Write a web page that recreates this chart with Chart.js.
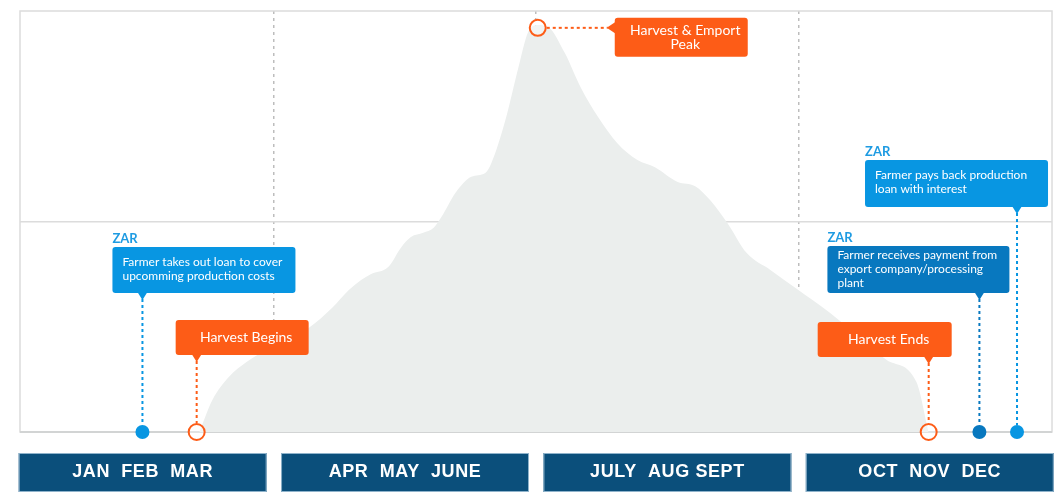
<!DOCTYPE html>
<html>
<head>
<meta charset="utf-8">
<script src="https://cdn.jsdelivr.net/npm/chart.js@4/dist/chart.umd.min.js"></script>
<style>
  html, body { margin: 0; padding: 0; background: #fff; }
  #wrap { width: 1062px; height: 496px; }
</style>
</head>
<body>
<div id="wrap"><canvas id="cycle"></canvas></div>
<script>
// harvest volume profile (x = month of year, y = relative volume)
const areaMonths = [2.15, 2.30, 2.49, 2.69, 2.91, 3.18, 3.40, 3.67, 3.86, 4.00, 4.11, 4.31, 4.46, 4.57,
  4.71, 4.83, 4.92, 5.08, 5.26, 5.42, 5.49, 5.65, 5.80, 5.91, 6.02, 6.14, 6.33, 6.51, 6.71, 6.93,
  7.16, 7.36, 7.62, 7.82, 7.99, 8.19, 8.41, 8.68, 8.98, 9.36, 9.67, 10.01, 10.35, 10.49];
const areaVolume = [0, 7.6, 13.1, 16.6, 19.5, 22.3, 24.7, 29.5, 33.7, 36.1, 37.5, 39.2, 43.9, 46.3,
  47.3, 48.5, 51.1, 56.8, 60.6, 61.5, 63.9, 74.1, 86.7, 95.0, 96.7, 96.2, 90.0, 81.9, 74.8, 68.6,
  64.6, 62.9, 59.4, 58.4, 55.1, 49.6, 42.5, 38.5, 34.0, 28.3, 23.0, 17.1, 11.9, 0];

// harvest milestones (hollow orange rings)
const harvestLabels = [["Harvest Begins"], ["Harvest & Emport", "Peak"], ["Harvest Ends"]];
const harvestMonths = [2.12, 6.02, 10.49];
const harvestValues = [0, 96, 0];

// money flows (filled blue dots)
const moneyLabels = [
  ["Farmer takes out loan to cover", "upcomming production costs"],
  ["Farmer receives payment from", "export company/processing", "plant"],
  ["Farmer pays back production", "loan with interest"]
];
const moneyMonths = [1.5, 11.07, 11.5];
const moneyValues = [0, 0, 0];
const currency = "ZAR";

const quarterLabels = ["JAN  FEB  MAR", "APR  MAY  JUNE", "JULY  AUG SEPT", "OCT  NOV  DEC"];

const ORANGE = "#fd5c17";
const BLUE = "#0896e2";
const DARK_BLUE = "#0878bf";
const NAVY = "#0b4f7b";
const FONT = "Lato, 'Open Sans', sans-serif";

// box layout relative to the anchor point, in pixels
const callouts = [
  { src: "money", i: 0, dx: -30, dy: -185, w: 183, h: 46, color: BLUE, align: "left", tag: true },
  { src: "harvest", i: 0, dx: -21, dy: -112, w: 133, h: 35, color: ORANGE, align: "center" },
  { src: "harvest", i: 1, dx: 77, dy: -10, w: 133, h: 39, color: ORANGE, align: "center", side: "left" },
  { src: "harvest", i: 2, dx: -111, dy: -110, w: 134, h: 35, color: ORANGE, align: "center" },
  { src: "money", i: 1, dx: -152, dy: -186, w: 182, h: 47, color: DARK_BLUE, align: "left", tag: true },
  { src: "money", i: 2, dx: -152, dy: -272, w: 183, h: 47, color: BLUE, align: "left", tag: true }
];

const framePlugin = {
  id: "frame",
  beforeDatasetsDraw(chart) {
    const { ctx, chartArea: a } = chart;
    ctx.save();
    ctx.strokeStyle = "#dcdcdc";
    ctx.lineWidth = 1.5;
    ctx.strokeRect(a.left, a.top, a.right - a.left, a.bottom - a.top);
    ctx.strokeStyle = "#d2d4d4";
    ctx.lineWidth = 2;
    ctx.beginPath();
    ctx.moveTo(a.left, a.bottom);
    ctx.lineTo(a.right, a.bottom);
    ctx.stroke();
    ctx.restore();
  },
  afterDraw(chart) {
    const { ctx, scales: { x } } = chart;
    ctx.save();
    quarterLabels.forEach((label, q) => {
      const l = x.getPixelForValue(q * 3 + 0.085);
      const r = x.getPixelForValue(q * 3 + 2.92);
      ctx.fillStyle = NAVY;
      ctx.fillRect(l, 453, r - l, 39);
      ctx.strokeStyle = "#8fb3cb";
      ctx.lineWidth = 1;
      ctx.strokeRect(l + 0.5, 453.5, r - l - 1, 38);
      ctx.fillStyle = "#fff";
      ctx.font = "bold 18px 'Liberation Sans', Arial, sans-serif";
      ctx.letterSpacing = "0.6px";
      ctx.textAlign = "center";
      ctx.textBaseline = "middle";
      ctx.fillText(label, (l + r) / 2, 472);
    });
    ctx.restore();
  }
};

const calloutPlugin = {
  id: "callouts",
  afterDatasetsDraw(chart) {
    const { ctx, scales: { x, y } } = chart;
    callouts.forEach((c) => {
      const months = c.src === "money" ? moneyMonths : harvestMonths;
      const values = c.src === "money" ? moneyValues : harvestValues;
      const lines = c.src === "money" ? moneyLabels[c.i] : harvestLabels[c.i];
      const ax = x.getPixelForValue(months[c.i]);
      const ay = y.getPixelForValue(values[c.i]);
      const bx = ax + c.dx, by = ay + c.dy;
      const gap = c.src === "money" ? 7 : 9;
      ctx.save();

      // dotted connector
      ctx.strokeStyle = c.color;
      ctx.lineWidth = 2;
      ctx.setLineDash([3, 3]);
      ctx.beginPath();
      if (c.side === "left") {
        ctx.moveTo(ax + gap, ay);
        ctx.lineTo(bx - 7, ay);
      } else {
        ctx.moveTo(ax, by + c.h + 6);
        ctx.lineTo(ax, ay - gap);
      }
      ctx.stroke();
      ctx.setLineDash([]);

      // box and pointer
      ctx.fillStyle = c.color;
      ctx.beginPath();
      ctx.roundRect(bx, by, c.w, c.h, 3);
      ctx.fill();
      ctx.beginPath();
      if (c.side === "left") {
        ctx.moveTo(bx + 1, ay - 6);
        ctx.lineTo(bx - 8, ay);
        ctx.lineTo(bx + 1, ay + 6);
      } else {
        ctx.moveTo(ax - 5, by + c.h - 1);
        ctx.lineTo(ax, by + c.h + 7);
        ctx.lineTo(ax + 5, by + c.h - 1);
      }
      ctx.fill();

      // text
      ctx.fillStyle = "#fff";
      ctx.textBaseline = "middle";
      if (c.align === "left") {
        ctx.font = "12px " + FONT;
        ctx.textAlign = "left";
        const lh = 14;
        const top = by + c.h / 2 - (lines.length - 1) * lh / 2 - (lines.length === 3 ? 0 : 1);
        lines.forEach((t, k) => ctx.fillText(t, bx + 10, top + k * lh));
      } else {
        ctx.font = "14px " + FONT;
        ctx.textAlign = "center";
        const lh = 14;
        const top = by + c.h / 2 - (lines.length - 1) * lh / 2;
        lines.forEach((t, k) => ctx.fillText(t, bx + c.w / 2 + 4, top + k * lh));
      }

      if (c.tag) {
        ctx.fillStyle = "#1e9be2";
        ctx.font = "bold 13px " + FONT;
        ctx.textAlign = "left";
        ctx.textBaseline = "alphabetic";
        ctx.fillText(currency, bx, by - 4);
      }
      ctx.restore();
    });
  }
};

new Chart(document.getElementById("cycle"), {
  type: "scatter",
  data: {
    datasets: [
      {
        label: "money",
        data: moneyMonths.map((m, i) => ({ x: m, y: moneyValues[i] })),
        backgroundColor: [BLUE, DARK_BLUE, BLUE],
        borderWidth: 0,
        pointRadius: 7,
        clip: false,
        order: 1
      },
      {
        label: "harvest",
        data: harvestMonths.map((m, i) => ({ x: m, y: harvestValues[i] })),
        backgroundColor: "rgba(255,255,255,0.35)",
        borderColor: ORANGE,
        borderWidth: 2,
        pointRadius: 8,
        clip: false,
        order: 1
      },
      {
        type: "line",
        label: "volume",
        data: areaMonths.map((m, i) => ({ x: m, y: areaVolume[i] })),
        fill: "origin",
        backgroundColor: "#ebeeed",
        borderWidth: 0,
        borderColor: "rgba(0,0,0,0)",
        pointRadius: 0,
        cubicInterpolationMode: "monotone",
        order: 5
      }
    ]
  },
  options: {
    responsive: true,
    maintainAspectRatio: false,
    animation: false,
    layout: { padding: { left: 20, right: 6, top: 11, bottom: 64 } },
    plugins: { legend: { display: false }, tooltip: { enabled: false } },
    scales: {
      x: {
        type: "linear",
        min: 0.1,
        max: 11.9,
        afterBuildTicks: (axis) => { axis.ticks = [3, 6, 9].map((v) => ({ value: v })); },
        ticks: { display: false },
        grid: { color: "#bdbdbd", lineWidth: 1.5, drawTicks: false },
        border: { display: false, dash: [3, 4] }
      },
      y: {
        min: 0,
        max: 100,
        afterBuildTicks: (axis) => { axis.ticks = [{ value: 50 }]; },
        ticks: { display: false },
        grid: { color: "#dcdcdc", lineWidth: 1.5, drawTicks: false },
        border: { display: false }
      }
    }
  },
  plugins: [framePlugin, calloutPlugin]
});
</script>
</body>
</html>
